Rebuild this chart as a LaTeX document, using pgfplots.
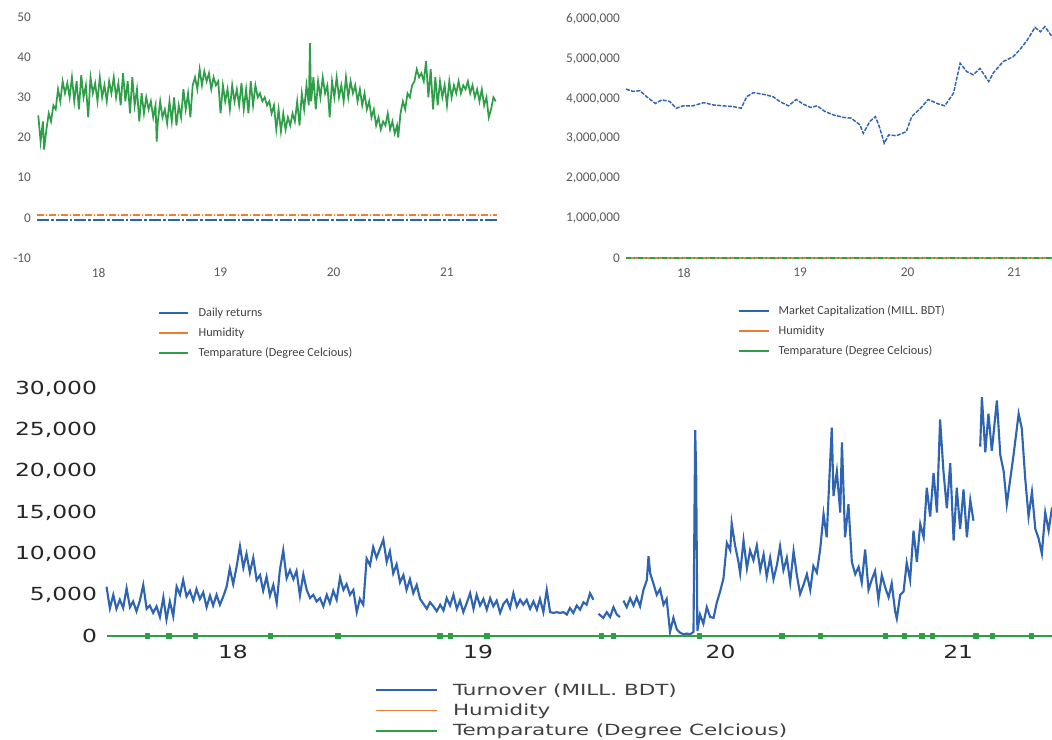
\documentclass[border=0pt]{standalone}
\usepackage{fontspec}
\usepackage{pgfplots}
\pgfplotsset{compat=1.18}
\newfontfamily\topfont{Carlito}
\newfontfamily\botfont[FakeStretch=1.3]{DejaVu Sans}
\newfontfamily\legfont[FakeStretch=1.4]{DejaVu Sans}
\definecolor{xblue}{RGB}{47,100,178}
\definecolor{xorange}{RGB}{237,125,49}
\definecolor{xgreen}{RGB}{46,158,72}
\definecolor{tickgray}{RGB}{89,89,89}
\definecolor{legtext}{RGB}{64,64,64}

\pgfplotsset{
  panel/.style={
    scale only axis, enlargelimits=false, clip=false, scaled y ticks=false,
    axis line style={draw=none}, major tick length=0pt, tick style={draw=none},
    legend cell align=left,
  },
  toppanel/.style={
    panel,
    tick label style={font=\topfont\fontsize{10}{12}\selectfont, text=tickgray},
    xticklabel style={yshift=-4pt},
    yticklabel style={xshift=-1pt},
    xticklabels={18,19,20,21},
    legend style={draw=none, fill=none, anchor=north west,
      font=\topfont\fontsize{9.2}{11}\selectfont, text=legtext,
      row sep=3pt, inner sep=1pt},
    legend image code/.code={\draw[#1,solid,line width=1.4pt] (0pt,0pt) -- (22pt,0pt); \path (27pt,0pt);},
  },
}

\begin{document}
\begin{tikzpicture}
\path[use as bounding box] (0pt,0pt) rectangle (789pt,554.25pt);

% top left: daily returns
\begin{axis}[toppanel,
  at={(27.75pt,360.75pt)}, anchor=south west,
  width=345pt, height=180.75pt,
  xmin=17.469, xmax=21.431, ymin=-10, ymax=50,
  xtick={18,19.048,20.024,21},
  ytick={-10,0,10,20,30,40,50},
  yticklabels={-10,0,10,20,30,40,50},
  legend style={at={(0.26,-0.19)}},
]
\addplot[xblue, line width=1.2pt, dash pattern=on 9pt off 1.5pt on 2pt off 1.5pt]
  coordinates {(17.47,-0.5) (21.43,-0.5)};
\addlegendentry{Daily returns}
\addplot[xorange, line width=1.1pt, dash pattern=on 5pt off 1.5pt on 1pt off 1.5pt]
  coordinates {(17.47,0.7) (21.43,0.7)};
\addlegendentry{Humidity}
\addplot[xgreen, line width=1.3pt] coordinates {
(17.48,25.5) (17.50,19) (17.52,24) (17.53,17) (17.55,22) (17.57,26) (17.59,24) (17.61,28)
(17.63,27) (17.65,32) (17.67,29) (17.69,34) (17.71,31) (17.73,33.5) (17.75,30) (17.77,35)
(17.79,29) (17.81,34) (17.83,27) (17.85,35.5) (17.87,30) (17.89,33) (17.91,25) (17.93,35)
(17.95,31) (17.97,33.5) (17.99,29) (18.01,35) (18.03,30) (18.05,33) (18.07,29) (18.09,34)
(18.11,31) (18.13,35) (18.15,30) (18.17,33.5) (18.19,28) (18.21,36) (18.23,29) (18.25,34)
(18.27,26) (18.29,35) (18.31,28) (18.33,32) (18.35,24) (18.37,31) (18.39,26) (18.41,30)
(18.43,27) (18.45,29) (18.47,25) (18.49,28) (18.50,19) (18.51,24) (18.53,29) (18.55,25)
(18.57,27) (18.59,23.5) (18.61,29) (18.63,24) (18.65,30) (18.67,23) (18.69,28) (18.71,25)
(18.73,32) (18.75,27) (18.77,31) (18.79,25) (18.81,33) (18.83,35) (18.85,32) (18.87,37)
(18.89,33) (18.91,36.5) (18.93,34) (18.95,36) (18.97,32) (18.99,35) (19.01,33) (19.03,34)
(19.05,26) (19.07,33) (19.09,29) (19.11,32) (19.13,27) (19.15,33) (19.17,29) (19.19,32)
(19.21,28) (19.23,33.5) (19.25,27) (19.27,32) (19.29,26) (19.31,34) (19.33,28) (19.35,33)
(19.37,30) (19.39,31) (19.41,29) (19.43,30) (19.45,28) (19.47,29) (19.49,26) (19.51,28)
(19.53,22) (19.55,27) (19.57,21.5) (19.59,26) (19.61,22) (19.63,25) (19.65,23) (19.67,26)
(19.69,24) (19.71,29) (19.73,23) (19.75,31) (19.77,27) (19.79,33) (19.81,28) (19.82,43.5)
(19.83,29) (19.85,35) (19.87,27) (19.89,34) (19.91,30) (19.93,35) (19.95,31) (19.97,33)
(19.99,25) (20.01,34) (20.03,30) (20.05,35) (20.07,30) (20.09,33) (20.11,29) (20.13,35)
(20.15,30) (20.17,34) (20.19,31) (20.21,33) (20.23,29) (20.25,32) (20.27,28) (20.29,31)
(20.31,27) (20.33,29) (20.35,25) (20.37,27) (20.39,23) (20.41,25) (20.43,22) (20.45,24)
(20.47,23) (20.49,26) (20.51,22) (20.53,24) (20.55,21) (20.57,23) (20.58,20) (20.60,26)
(20.62,29) (20.64,27) (20.66,31) (20.68,30) (20.70,33) (20.72,34) (20.74,37) (20.76,35)
(20.78,36) (20.80,34) (20.82,39) (20.84,30) (20.86,37) (20.88,27) (20.90,35) (20.92,28)
(20.94,34) (20.96,30) (20.98,33) (21.00,28) (21.02,34) (21.04,30) (21.06,33) (21.08,31)
(21.10,34) (21.12,31) (21.14,33) (21.16,32) (21.18,34) (21.20,31) (21.22,33) (21.24,30)
(21.26,32) (21.28,29) (21.30,32) (21.32,28) (21.34,30) (21.36,25) (21.38,27) (21.40,30)
(21.42,29)};
\addlegendentry{Temparature (Degree Celcious)}
\end{axis}

% top right: market capitalization
\begin{axis}[toppanel,
  at={(469.5pt,360.75pt)}, anchor=south west,
  width=319.5pt, height=179.25pt,
  xmin=17.473, xmax=21.345, ymin=0, ymax=6000000,
  xtick={18,19.055,20.033,21},
  ytick={0,1000000,2000000,3000000,4000000,5000000,6000000},
  yticklabels={0,{1,000,000},{2,000,000},{3,000,000},{4,000,000},{5,000,000},{6,000,000}},
  legend style={at={(0.26,-0.18)}},
]
\addplot[xblue, line width=1.1pt, dash pattern=on 3pt off 1pt] coordinates {
(17.473,4240000) (17.54,4180000) (17.60,4200000) (17.66,4050000) (17.74,3880000)
(17.80,3970000) (17.87,3930000) (17.93,3760000) (17.99,3820000) (18.08,3820000)
(18.18,3900000) (18.27,3840000) (18.36,3820000) (18.45,3800000) (18.52,3760000)
(18.57,4050000) (18.63,4150000) (18.72,4110000) (18.81,4050000) (18.87,3930000)
(18.95,3820000) (19.02,3980000) (19.08,3870000) (19.15,3780000) (19.21,3820000)
(19.28,3680000) (19.36,3590000) (19.45,3530000) (19.52,3510000) (19.60,3340000)
(19.63,3130000) (19.69,3430000) (19.74,3550000) (19.78,3260000) (19.82,2880000)
(19.86,3090000) (19.93,3070000) (20.02,3170000) (20.07,3550000) (20.15,3760000)
(20.22,3980000) (20.30,3880000) (20.37,3820000) (20.45,4140000) (20.51,4890000)
(20.57,4680000) (20.63,4600000) (20.69,4760000) (20.77,4430000) (20.81,4640000)
(20.90,4930000) (20.99,5050000) (21.05,5220000) (21.12,5470000) (21.19,5790000)
(21.24,5680000) (21.28,5810000) (21.345,5560000)};
\addlegendentry{Market Capitalization (MILL. BDT)}
\addplot[xorange, line width=0.8pt] coordinates {(17.473,0.7) (21.345,0.7)};
\addlegendentry{Humidity}
\addplot[xgreen, line width=1pt, dash pattern=on 4pt off 2pt on 1pt off 2pt]
  coordinates {(17.473,30) (21.345,30)};
\addlegendentry{Temparature (Degree Celcious)}
\end{axis}

% bottom: turnover
\begin{axis}[panel,
  at={(80.25pt,77.25pt)}, anchor=south west,
  width=708.75pt, height=185.25pt,
  xmin=17.479, xmax=21.388, ymin=0, ymax=30000,
  unbounded coords=jump,
  xtick={18,19.014,20.017,21}, xticklabels={18,19,20,21},
  ytick={0,5000,10000,15000,20000,25000,30000},
  yticklabels={0,{5,000},{10,000},{15,000},{20,000},{25,000},{30,000}},
  tick label style={font=\botfont\fontsize{13.5}{15}\selectfont, text=black!85},
  xticklabel style={yshift=-3pt},
  yticklabel style={xshift=-4pt},
  legend style={draw=none, fill=none, anchor=north west, at={(0.282,-0.175)},
    font=\legfont\fontsize{11.5}{12}\selectfont, text=legtext,
    row sep=1pt, inner sep=1pt},
  legend image code/.code={\draw[#1,solid,line width=1.3pt] (0pt,0pt) -- (46pt,0pt); \path (55pt,0pt);},
]
\addplot[xblue, line width=1.6pt] coordinates {
(17.477,5990) (17.491,3360) (17.505,5000) (17.518,3300) (17.532,4400) (17.546,3400)
(17.560,5800) (17.574,3500) (17.587,4200) (17.601,3000) (17.615,4300) (17.629,6200)
(17.643,3300) (17.656,3700) (17.670,2800) (17.684,3600) (17.698,2300) (17.712,4700)
(17.725,2000) (17.739,4200) (17.753,2400) (17.767,6000) (17.781,5000) (17.794,6800)
(17.808,4800) (17.822,5500) (17.836,4300) (17.849,5700) (17.863,4500) (17.877,5300)
(17.891,3500) (17.905,4900) (17.918,3700) (17.932,5000) (17.946,3800) (17.960,4800)
(17.974,6000) (17.987,8200) (18.001,6300) (18.015,8400) (18.029,10900) (18.043,8300)
(18.056,10000) (18.070,7700) (18.084,9500) (18.098,6800) (18.112,7400) (18.125,5500)
(18.139,7200) (18.153,4900) (18.167,6200) (18.181,4000) (18.194,8000) (18.208,10400)
(18.222,7000) (18.236,8000) (18.250,6900) (18.263,7900) (18.277,4900) (18.291,7500)
(18.305,5600) (18.319,4600) (18.332,5000) (18.346,4200) (18.360,4600) (18.374,3600)
(18.388,5000) (18.401,4000) (18.415,5500) (18.429,4400) (18.443,7100) (18.457,5600)
(18.470,6300) (18.484,5000) (18.498,5600) (18.512,2900) (18.525,4500) (18.539,3800)
(18.553,9400) (18.567,8600) (18.580,10800) (18.594,9500) (18.608,10600) (18.622,11700)
(18.636,9000) (18.649,10300) (18.663,7600) (18.677,8700) (18.691,6500) (18.705,7400)
(18.718,5600) (18.732,6900) (18.746,5200) (18.760,6200) (18.774,4500) (18.788,3900)
(18.802,3300) (18.815,4100) (18.829,3600) (18.843,3000) (18.857,3800) (18.871,3100)
(18.884,4600) (18.898,3700) (18.912,5000) (18.926,3300) (18.939,4300) (18.953,2900)
(18.967,4000) (18.981,5200) (18.995,3300) (19.008,5000) (19.022,3700) (19.036,4500)
(19.050,3200) (19.064,4600) (19.077,3600) (19.091,4300) (19.105,2800) (19.119,3900)
(19.133,4400) (19.146,3400) (19.160,5200) (19.174,3600) (19.188,4400) (19.201,3800)
(19.215,4400) (19.229,3300) (19.243,4200) (19.257,3200) (19.270,4500) (19.284,2900)
(19.298,5600) (19.312,2900) (19.326,2800) (19.339,2900) (19.353,2800) (19.367,2900)
(19.381,2600) (19.394,3400) (19.408,2800) (19.422,3700) (19.436,3200) (19.450,4100)
(19.463,3800) (19.477,5200) (19.491,4400) (19.500,nan)
(19.512,2700) (19.532,2200) (19.546,2900) (19.560,2300) (19.574,3500) (19.588,2600)
(19.601,2300) (19.608,nan)
(19.615,4300) (19.629,3500) (19.643,4600) (19.657,3700) (19.670,4700) (19.684,3600)
(19.698,5600) (19.712,6800) (19.719,9700) (19.726,7600) (19.739,6400) (19.753,5000)
(19.767,5700) (19.781,3800) (19.794,4500) (19.808,500) (19.822,2200) (19.836,800)
(19.850,400) (19.864,200) (19.877,300) (19.891,200) (19.905,500) (19.912,25000)
(19.916,20000) (19.921,600) (19.932,2600) (19.946,1500) (19.960,3500) (19.974,2300)
(19.988,2200) (20.001,4000) (20.015,5400) (20.029,7000) (20.043,11300) (20.057,10400)
(20.063,13700) (20.077,11000) (20.091,9000) (20.098,7600) (20.112,11600) (20.126,8200)
(20.139,10400) (20.153,9200) (20.167,11000) (20.181,8000) (20.195,9900) (20.208,7200)
(20.222,9500) (20.236,6900) (20.250,8600) (20.263,10900) (20.277,8000) (20.291,9500)
(20.305,6500) (20.319,10300) (20.332,7500) (20.346,5100) (20.360,6200) (20.374,7500)
(20.388,5600) (20.401,8500) (20.415,7700) (20.429,10500) (20.443,14800) (20.456,12000)
(20.470,21000) (20.477,25300) (20.484,17000) (20.498,20000) (20.512,15000) (20.519,23500)
(20.532,12000) (20.546,16000) (20.560,9000) (20.574,7500) (20.588,8400) (20.601,6500)
(20.615,10500) (20.629,5600) (20.643,6900) (20.656,7900) (20.670,4400) (20.684,7400)
(20.698,5900) (20.712,4700) (20.725,6400) (20.739,3000) (20.746,2100) (20.760,5000)
(20.774,5400) (20.787,8900) (20.801,6800) (20.815,12800) (20.829,9000) (20.843,13600)
(20.857,12000) (20.870,18000) (20.884,14500) (20.898,19800) (20.912,15000) (20.925,26300)
(20.939,20000) (20.953,15500) (20.967,21000) (20.981,11600) (20.994,18000) (21.008,13000)
(21.022,17800) (21.036,12000) (21.050,16500) (21.063,14000) (21.077,nan)
(21.091,23000) (21.098,29000) (21.112,22300) (21.125,27000) (21.139,22500) (21.160,28600)
(21.174,22000) (21.188,20000) (21.201,16000) (21.215,19000) (21.229,22000) (21.250,27000)
(21.263,25200) (21.277,19200) (21.291,14500) (21.305,17500) (21.319,13000) (21.333,11800)
(21.346,10000) (21.360,15000) (21.374,12800) (21.388,15600)};
\addlegendentry{Turnover (MILL. BDT)}
\addplot[xorange, line width=1pt] coordinates {(17.479,0.7) (21.388,0.7)};
\addlegendentry{Humidity}
\addplot[xgreen, line width=1.2pt] coordinates {(17.479,30) (21.388,30)};
\addlegendentry{Temparature (Degree Celcious)}
\addplot[only marks, mark=square*, mark size=1.6pt, xgreen, forget plot] coordinates {
(17.647,30) (17.735,30) (17.843,30) (18.153,30) (18.434,30) (18.856,30) (18.898,30)
(19.050,30) (19.525,30) (19.572,30) (19.928,30) (20.270,30) (20.429,30) (20.698,30)
(20.776,30) (20.849,30) (20.892,30) (21.073,30) (21.140,30) (21.302,30)};
\end{axis}
\end{tikzpicture}
\end{document}
